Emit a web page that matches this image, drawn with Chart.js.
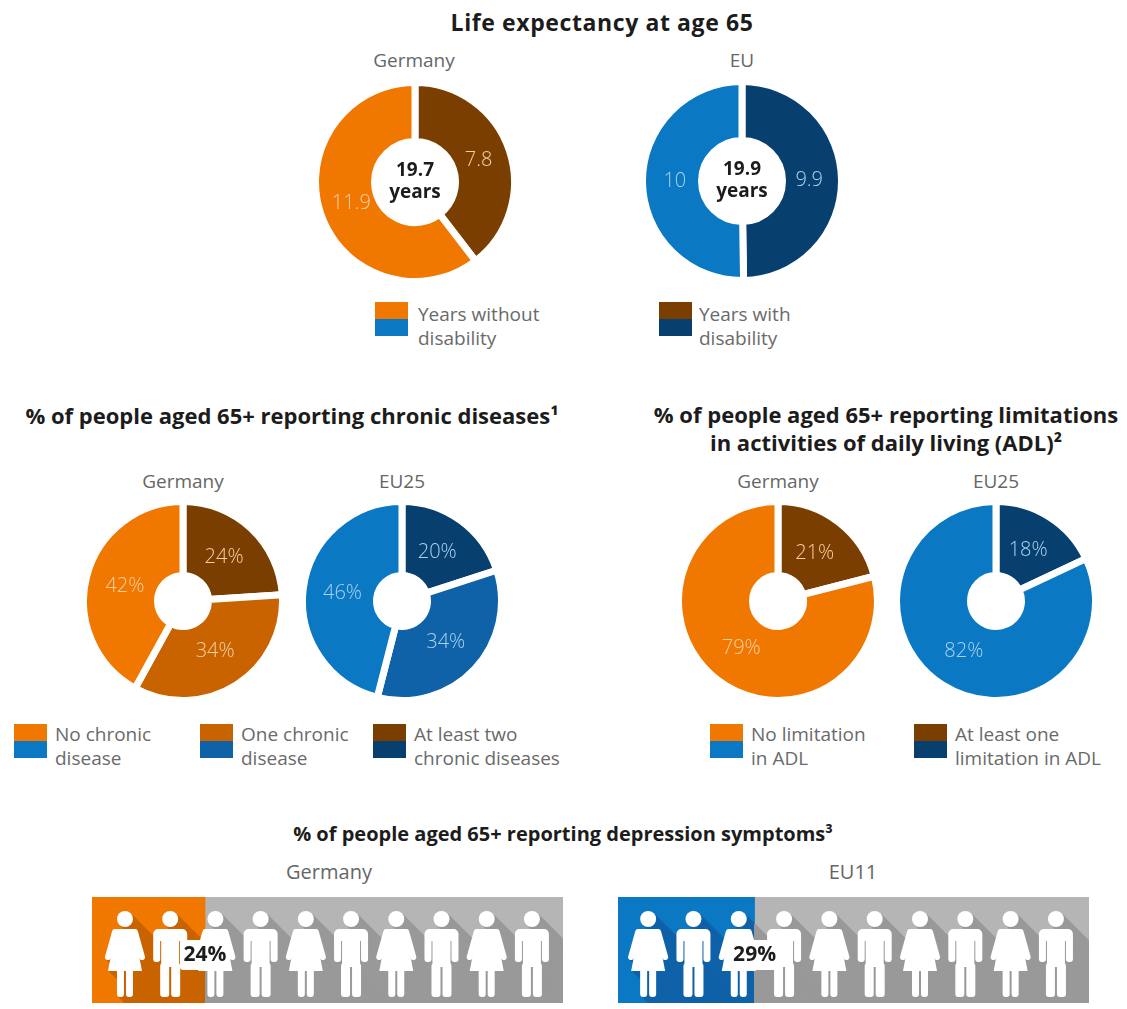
<!DOCTYPE html>
<html lang="en">
<head>
  <meta charset="UTF-8">
  <title>Life expectancy and health at age 65</title>
  <script src="https://cdn.jsdelivr.net/npm/chart.js"></script>
  <style>
    html, body { margin: 0; padding: 0; background: #fff; }
    body { position: relative; width: 1127px; height: 1009px; overflow: hidden; font-family: "Open Sans", sans-serif; }
    canvas { position: absolute; }
    .head { position: absolute; font-weight: 700; font-size: 22px; line-height: 28px; color: #1c1c1c; white-space: nowrap; text-align: center; transform: translateX(-50%); }
    .sub { position: absolute; font-weight: 400; font-size: 19px; line-height: 24px; color: #666; white-space: nowrap; transform: translateX(-50%); }
    .swatch { position: absolute; width: 33px; height: 34px; }
    .leg { position: absolute; font-size: 19px; line-height: 24px; color: #6a6a6a; white-space: nowrap; }
  </style>
</head>
<body>
  <div class="head" style="left:602px;top:8px;font-size:23px;letter-spacing:.6px">Life expectancy at age 65</div>
  <div class="sub" style="left:414px;top:48px">Germany</div>
  <div class="sub" style="left:742px;top:48px">EU</div>

  <canvas id="lifeDe" style="left:312px;top:79px"></canvas>
  <canvas id="lifeEu" style="left:639px;top:78px"></canvas>

  <div class="swatch" style="left:375px;top:302px;background:linear-gradient(#f07800 50%,#0a78c2 50%)"></div>
  <div class="leg" style="left:418px;top:302px">Years without<br>disability</div>
  <div class="swatch" style="left:659px;top:302px;background:linear-gradient(#7a3f00 50%,#073f6e 50%)"></div>
  <div class="leg" style="left:699px;top:302px">Years with<br>disability</div>

  <div class="head" style="left:292px;top:401px">% of people aged 65+ reporting chronic diseases¹</div>
  <div class="head" style="left:886px;top:400px">% of people aged 65+ reporting limitations<br>in activities of daily living (ADL)²</div>

  <div class="sub" style="left:183px;top:469px">Germany</div>
  <div class="sub" style="left:402px;top:469px">EU25</div>
  <div class="sub" style="left:778px;top:469px">Germany</div>
  <div class="sub" style="left:996px;top:469px">EU25</div>

  <canvas id="chronicDe" style="left:80px;top:498px"></canvas>
  <canvas id="chronicEu" style="left:299px;top:498px"></canvas>
  <canvas id="adlDe" style="left:675px;top:498px"></canvas>
  <canvas id="adlEu" style="left:893px;top:498px"></canvas>

  <div class="swatch" style="left:14px;top:724px;background:linear-gradient(#f07800 50%,#0a78c2 50%)"></div>
  <div class="leg" style="left:55px;top:722px">No chronic<br>disease</div>
  <div class="swatch" style="left:200px;top:724px;background:linear-gradient(#c96300 50%,#0f62a8 50%)"></div>
  <div class="leg" style="left:241px;top:722px">One chronic<br>disease</div>
  <div class="swatch" style="left:373px;top:724px;background:linear-gradient(#7a3f00 50%,#073f6e 50%)"></div>
  <div class="leg" style="left:414px;top:722px">At least two<br>chronic diseases</div>
  <div class="swatch" style="left:710px;top:724px;background:linear-gradient(#f07800 50%,#0a78c2 50%)"></div>
  <div class="leg" style="left:751px;top:722px">No limitation<br>in ADL</div>
  <div class="swatch" style="left:914px;top:724px;background:linear-gradient(#7a3f00 50%,#073f6e 50%)"></div>
  <div class="leg" style="left:955px;top:722px">At least one<br>limitation in ADL</div>

  <div class="head" style="left:563px;top:820px;font-size:20px">% of people aged 65+ reporting depression symptoms³</div>
  <div class="sub" style="left:329px;top:860px;font-size:20px">Germany</div>
  <div class="sub" style="left:853px;top:860px;font-size:20px">EU11</div>

  <canvas id="depDe" style="left:92px;top:897px"></canvas>
  <canvas id="depEu" style="left:618px;top:897px"></canvas>

  <script>
    // values, clockwise from 12 o'clock
    const lifeGermany = [7.8, 11.9];
    const lifeEU = [9.9, 10];
    const lifeTotals = ['19.7', '19.9'];
    const chronicGermany = [24, 34, 42];
    const chronicEU25 = [20, 34, 46];
    const adlGermany = [21, 79];
    const adlEU25 = [18, 82];
    const depressionGermany = [24, 76];
    const depressionEU11 = [29, 71];
    const people = ['w', 'm', 'w', 'm', 'w', 'm', 'w', 'm', 'w', 'm'];

    const ORANGE = ['#7a3f00', '#c96300', '#f07800'];
    const BLUE = ['#073f6e', '#0f62a8', '#0a78c2'];
    const TINT_O = '#f8cfa2';
    const TINT_B = '#a9d3f2';

    const sliceLabels = {
      id: 'sliceLabels',
      afterDraw(chart, args, opts) {
        const ctx = chart.ctx;
        const meta = chart.getDatasetMeta(0);
        ctx.save();
        ctx.textAlign = 'center';
        ctx.textBaseline = 'middle';
        ctx.font = '300 20px "Open Sans"';
        ctx.fillStyle = opts.color;
        meta.data.forEach((arc, i) => {
          const p = arc.getCenterPoint();
          // pull the text a little toward the hole, the ring centre sits too far out
          const dx = p.x - arc.x;
          const dy = p.y - arc.y;
          ctx.fillText(chart.data.datasets[0].data[i] + opts.suffix, arc.x + dx * 0.96, arc.y + dy * 0.96);
        });
        if (opts.total) {
          const a = meta.data[0];
          ctx.fillStyle = '#1c1c1c';
          ctx.font = '700 19px "Open Sans"';
          ctx.fillText(opts.total, a.x, a.y - 11);
          ctx.fillText('years', a.x, a.y + 11);
        }
        ctx.restore();
      }
    };

    function donut(id, values, colors, size, cutout, tint, suffix, total) {
      const el = document.getElementById(id);
      el.width = size;
      el.height = size;
      return new Chart(el, {
        type: 'doughnut',
        data: { datasets: [{ data: values, backgroundColor: colors, borderColor: '#ffffff', borderWidth: 7 }] },
        options: {
          responsive: false,
          animation: false,
          cutout: cutout,
          layout: { padding: 0 },
          plugins: {
            legend: { display: false },
            tooltip: { enabled: false },
            sliceLabels: { color: tint, suffix: suffix, total: total }
          }
        },
        plugins: [sliceLabels]
      });
    }

    // single person, top of bar = y 0
    function person(ctx, cx, top, kind, color) {
      ctx.fillStyle = color;
      ctx.strokeStyle = color;
      ctx.lineCap = 'round';
      ctx.beginPath();
      ctx.arc(cx, top + 22, 8, 0, Math.PI * 2);
      ctx.fill();
      ctx.beginPath();
      if (kind === 'm') {
        ctx.roundRect(cx - 17, top + 32, 34, 12, 5);
        ctx.roundRect(cx - 17, top + 36, 7, 29, 3);
        ctx.roundRect(cx + 10, top + 36, 7, 29, 3);
        ctx.rect(cx - 9, top + 36, 18, 34);
        ctx.roundRect(cx - 10, top + 66, 9, 34, 3);
        ctx.roundRect(cx + 1, top + 66, 9, 34, 3);
        ctx.fill();
      } else {
        ctx.moveTo(cx - 9, top + 32);
        ctx.lineTo(cx + 9, top + 32);
        ctx.lineTo(cx + 17, top + 74);
        ctx.lineTo(cx - 17, top + 74);
        ctx.closePath();
        ctx.roundRect(cx - 8, top + 70, 7, 30, 3);
        ctx.roundRect(cx + 1, top + 70, 7, 30, 3);
        ctx.fill();
        ctx.lineWidth = 6;
        ctx.beginPath();
        ctx.moveTo(cx - 10, top + 35);
        ctx.lineTo(cx - 17, top + 60);
        ctx.moveTo(cx + 10, top + 35);
        ctx.lineTo(cx + 17, top + 60);
        ctx.stroke();
      }
    }

    const crowd = {
      id: 'crowd',
      afterDatasetsDraw(chart, args, opts) {
        const ctx = chart.ctx;
        const x = chart.scales.x;
        const a = chart.chartArea;
        const split = x.getPixelForValue(chart.data.datasets[0].data[0]);
        const centers = people.map((k, i) => x.getPixelForValue(opts.first + i * opts.step));

        // long shadows, one colour each side of the split
        [[a.left, split, opts.shadow], [split, a.right, '#999999']].forEach(part => {
          ctx.save();
          ctx.beginPath();
          ctx.rect(part[0], a.top, part[1] - part[0], a.bottom - a.top);
          ctx.clip();
          centers.forEach((cx, i) => {
            for (let d = 1; d < 90; d++) person(ctx, cx + d, a.top + d, people[i], part[2]);
          });
          ctx.restore();
        });

        ctx.save();
        centers.forEach((cx, i) => person(ctx, cx, a.top, people[i], '#ffffff'));
        ctx.fillStyle = '#ffffff';
        ctx.beginPath();
        ctx.roundRect(split - 25, a.top + 43, 50, 30, 3);
        ctx.fill();
        ctx.fillStyle = '#1c1c1c';
        ctx.font = '700 21px "Open Sans"';
        ctx.textAlign = 'center';
        ctx.textBaseline = 'middle';
        ctx.fillText(chart.data.datasets[0].data[0] + '%', split, a.top + 58);
        ctx.restore();
      }
    };

    function depression(id, values, color, shadow, first, step) {
      const el = document.getElementById(id);
      el.width = 471;
      el.height = 106;
      return new Chart(el, {
        type: 'bar',
        data: {
          labels: [''],
          datasets: [
            { data: [values[0]], backgroundColor: color, barPercentage: 1, categoryPercentage: 1 },
            { data: [values[1]], backgroundColor: '#b5b5b5', barPercentage: 1, categoryPercentage: 1 }
          ]
        },
        options: {
          indexAxis: 'y',
          responsive: false,
          animation: false,
          layout: { padding: 0 },
          scales: {
            x: { stacked: true, display: false, min: 0, max: 100 },
            y: { stacked: true, display: false }
          },
          plugins: {
            legend: { display: false },
            tooltip: { enabled: false },
            crowd: { shadow: shadow, first: first, step: step }
          }
        },
        plugins: [crowd]
      });
    }

    donut('lifeDe', lifeGermany, [ORANGE[0], ORANGE[2]], 206, 40.5, TINT_O, '', lifeTotals[0]);
    donut('lifeEu', lifeEU, [BLUE[0], BLUE[2]], 206, 40.5, TINT_B, '', lifeTotals[1]);
    donut('chronicDe', chronicGermany, ORANGE, 206, 25.5, TINT_O, '%');
    donut('chronicEu', chronicEU25, BLUE, 206, 25.5, TINT_B, '%');
    donut('adlDe', adlGermany, [ORANGE[0], ORANGE[2]], 206, 25.5, TINT_O, '%');
    donut('adlEu', adlEU25, [BLUE[0], BLUE[2]], 206, 25.5, TINT_B, '%');
    depression('depDe', depressionGermany, ORANGE[2], ORANGE[1], 7, 9.6);
    depression('depEu', depressionEU11, BLUE[2], BLUE[1], 6.4, 9.62);
  </script>
</body>
</html>
